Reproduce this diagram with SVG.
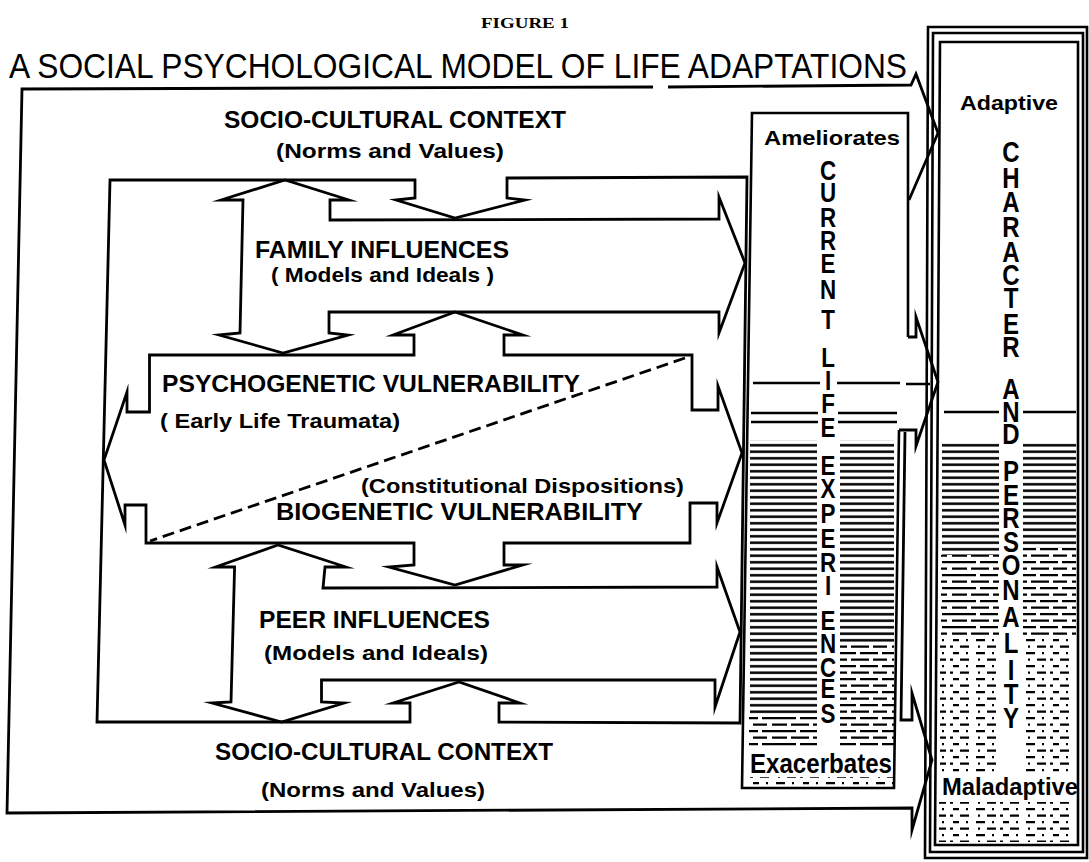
<svg xmlns="http://www.w3.org/2000/svg" width="1089" height="862" viewBox="0 0 1089 862">
<defs>
<style>
.ln{fill:none;stroke:#000;stroke-width:2.8;stroke-linejoin:miter;stroke-miterlimit:10}
.bx{fill:none;stroke:#000;stroke-width:2.6}
.dash{fill:none;stroke:#000;stroke-width:2.8;stroke-dasharray:12 6}
.hl{fill:none;stroke:#000;stroke-width:2.3}
.lb{font-family:"Liberation Sans",Arial,Helvetica,sans-serif;font-weight:bold;fill:#000}
.big{font-size:24px}
.sm{font-size:21px}
.vl{font-family:"Liberation Sans",Arial,Helvetica,sans-serif;font-weight:bold;fill:#000;text-anchor:middle}
</style>
<pattern id="hs" x="0" y="0" width="20" height="6.5" patternUnits="userSpaceOnUse"><rect x="0" y="2" width="20" height="2.5" fill="#000"/></pattern>
<pattern id="hb" x="0" y="0" width="60" height="13" patternUnits="userSpaceOnUse"><path d="M0 3.2H16M20 3.2H38M42 3.2H60M0 9.7H7M11 9.7H29M33 9.7H47M52 9.7H60" stroke="#000" stroke-width="2.3" fill="none"/></pattern>
<pattern id="hd" x="0" y="0" width="50" height="13" patternUnits="userSpaceOnUse"><path d="M3 3.2H9M16 3.2H18M26 3.2H35M42 3.2H44M0 9.7H3M10 9.7H19M28 9.7H30M37 9.7H46" stroke="#000" stroke-width="2.2" fill="none"/></pattern>
</defs>
<rect width="1089" height="862" fill="#fff"/>

<g id="title">
<text x="481" y="28" font-family="'Liberation Serif','Times New Roman',serif" font-weight="bold" font-size="15" textLength="88" lengthAdjust="spacingAndGlyphs">FIGURE 1</text>
<text x="9" y="78" font-family="'Liberation Sans',Arial,sans-serif" font-size="35" textLength="898" lengthAdjust="spacingAndGlyphs">A SOCIAL PSYCHOLOGICAL MODEL OF LIFE ADAPTATIONS</text>
</g>

<g id="connectors">
<path class="ln" d="M653,87 L22,89 L7,813 L912,808 L912,830 L932,760 L912,693 L912,720 L901,720 L905,432"/>
<path class="ln" d="M668,87 L911,85 L916,74 L938,133 L909,200"/>
<path class="ln" d="M908,337 L916,337 L916,317 L938,382 L916,446 L916,430 L899,430"/>
<path class="ln" d="M747,177 L507,178 L507,198 L525,200 L455,218 L396,200 L415,198 L415,180 L110,180 L97,722 L410,722 L410,703 L393,703 L459,682 L520,703 L499,703 L499,722 L740,723 Z"/>
<path class="ln" d="M221,200 L285,180 L349,200 L330,200 L330,220 L719,219 L719,197 L745,263 L719,333 L719,312 L329,312 L329,333 L348,335 L283,353 L219,335 L240,333 L243,200 Z"/>
<path class="ln" d="M149.5,355 L414,355 L414,335 L393,335 L455,312 L523,335 L504,335 L504,355 L692,355 L692,410 L718,410 L718,386 L742,453 L717,523 L717,503 L690,503 L690,543 L504,543 L504,565 L523,565 L455,585 L389,567 L414,565 L414,543 L146,543 L146,505 L125,505 L125,525 L104,460 L127,392 L127,412 L149.5,412 Z"/>
<path class="ln" d="M215.5,567 L278,545 L346,567 L325,567 L323,588 L717,587 L717,567 L740,632 L715,707 L715,680 L321.5,680 L321.5,702 L344,703 L281.6,722 L212,703 L231,702 L234.6,567 Z"/>
<path class="dash" d="M685,358 L150,541"/>
</g>

<g id="socio-top">
<text class="lb big" x="224" y="128" textLength="342" lengthAdjust="spacingAndGlyphs">SOCIO-CULTURAL CONTEXT</text>
<text class="lb sm" x="276" y="158" textLength="228" lengthAdjust="spacingAndGlyphs">(Norms and Values)</text>
</g>
<g id="family">
<text class="lb big" x="255" y="258" textLength="254" lengthAdjust="spacingAndGlyphs">FAMILY INFLUENCES</text>
<text class="lb sm" x="271" y="282" textLength="223" lengthAdjust="spacingAndGlyphs">( Models and Ideals )</text>
</g>
<g id="psychogenetic">
<text class="lb big" x="162" y="392" textLength="418" lengthAdjust="spacingAndGlyphs">PSYCHOGENETIC VULNERABILITY</text>
<text class="lb sm" x="160" y="428" textLength="240" lengthAdjust="spacingAndGlyphs">( Early Life Traumata)</text>
</g>
<g id="biogenetic">
<text class="lb sm" x="361" y="493" textLength="323" lengthAdjust="spacingAndGlyphs">(Constitutional Dispositions)</text>
<text class="lb big" x="276" y="520" textLength="367" lengthAdjust="spacingAndGlyphs">BIOGENETIC VULNERABILITY</text>
</g>
<g id="peer">
<text class="lb big" x="259" y="628" textLength="231" lengthAdjust="spacingAndGlyphs">PEER INFLUENCES</text>
<text class="lb sm" x="264" y="660" textLength="224" lengthAdjust="spacingAndGlyphs">(Models and Ideals)</text>
</g>
<g id="socio-bottom">
<text class="lb big" x="215" y="760" textLength="338" lengthAdjust="spacingAndGlyphs">SOCIO-CULTURAL CONTEXT</text>
<text class="lb sm" x="261" y="797" textLength="224" lengthAdjust="spacingAndGlyphs">(Norms and Values)</text>
</g>

<g id="current-life">
<path class="bx" d="M908,337 L908,113 L752,113 L742,788 L894,788 L899,430"/>
<path class="hl" d="M753,383H820M837,383H900M906,384H930M751,413H818M838,413H897M751,422H818M838,422H897"/>
<rect x="750" y="440" width="67" height="275" fill="url(#hs)"/>
<rect x="749" y="715" width="68" height="34" fill="url(#hb)"/>
<rect x="840" y="440" width="54" height="205" fill="url(#hs)"/>
<rect x="840" y="645" width="54" height="104" fill="url(#hb)"/>
<rect x="747" y="777" width="146" height="10" fill="url(#hd)"/>
<text class="lb" x="764" y="145" font-size="21" textLength="136" lengthAdjust="spacingAndGlyphs">Ameliorates</text>
<text class="vl" font-size="28" transform="translate(828,0) scale(0.8,1)" x="0 0 0 0 0 0 0 0 0 0 0 0 0 0 0 0 0 0 0 0 0 0" y="180 202 227 250 273 299 329 367 390 413 437 475 498 523 548 572 595 630 653 677 698 723">CURRENTLIFEEXPERIENCES</text>
<text class="lb" x="750" y="773" font-size="28" textLength="142" lengthAdjust="spacingAndGlyphs">Exacerbates</text>
</g>

<g id="character">
<path class="bx" d="M928,27 L1087,27 L1087,858 L925,858 Z"/>
<path class="bx" d="M933,33 L1083,33 L1083,852 L930,852 Z"/>
<path class="bx" d="M940,42 L1078,42 L1078,845 L935,845 Z"/>
<path class="hl" d="M944,412H999M1023,412H1076"/>
<rect x="942" y="443" width="57" height="112" fill="url(#hs)"/>
<rect x="1023" y="443" width="53" height="105" fill="url(#hs)"/>
<rect x="941" y="555" width="58" height="80" fill="url(#hb)"/>
<rect x="1023" y="548" width="53" height="87" fill="url(#hb)"/>
<rect x="940" y="635" width="59" height="138" fill="url(#hd)"/>
<rect x="1023" y="635" width="53" height="138" fill="url(#hd)"/>
<rect x="939" y="802" width="137" height="40" fill="url(#hd)"/>
<text class="lb" x="960" y="110" font-size="21" textLength="98" lengthAdjust="spacingAndGlyphs">Adaptive</text>
<text class="vl" font-size="30" transform="translate(1011,0) scale(0.8,1)" x="0 0 0 0 0 0 0 0 0 0 0 0 0 0 0 0 0 0 0 0 0 0 0" y="162 188 212 237 262 285 308 334 357 399 422 444 481 505 528 552 575 600 627 653 680 704 728">CHARACTERANDPERSONALITY</text>
<text class="lb" x="942" y="795" font-size="24" textLength="136" lengthAdjust="spacingAndGlyphs">Maladaptive</text>
</g>
</svg>
